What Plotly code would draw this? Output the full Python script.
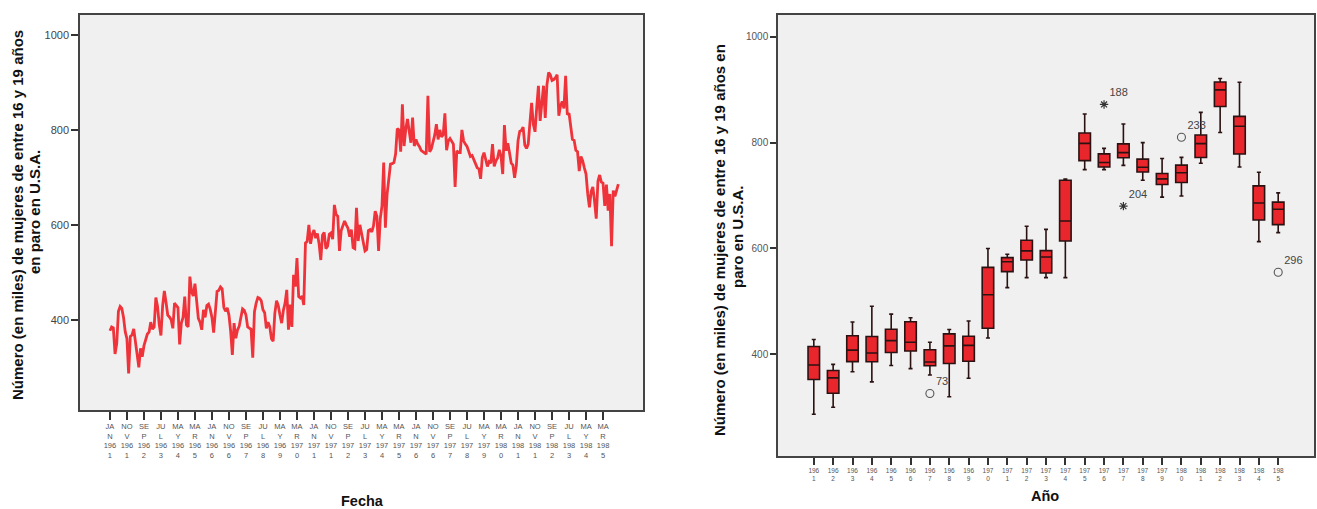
import numpy as np
import plotly.graph_objects as go

# ---------------- data (thousands, monthly Jan 1961 - Dec 1985) ----------------
month_abbr = ["JAN", "FEB", "MAR", "APR", "MAY", "JUN", "JUL", "AUG", "SEP", "OCT", "NOV", "DEC"]
years = list(range(1961, 1986))

v1961 = [377, 385, 383, 328, 350, 418, 428, 424, 405, 375, 360, 287]
v1962 = [365, 368, 381, 350, 318, 300, 340, 322, 345, 361, 370, 374]
v1963 = [395, 380, 385, 447, 428, 390, 367, 430, 461, 437, 410, 406]
v1964 = [400, 382, 435, 430, 426, 348, 393, 405, 449, 389, 385, 491]
v1965 = [460, 450, 476, 440, 403, 395, 379, 421, 405, 430, 433, 422]
v1966 = [405, 373, 421, 460, 462, 469, 465, 426, 418, 425, 410, 376]
v1967 = [326, 393, 361, 378, 386, 405, 423, 420, 410, 385, 382, 380]
v1968 = [320, 417, 435, 447, 445, 440, 421, 415, 382, 395, 385, 360]
v1969 = [355, 414, 440, 430, 410, 393, 420, 435, 463, 379, 432, 385]
v1970 = [495, 470, 530, 449, 446, 450, 431, 562, 565, 600, 560, 580]
v1971 = [589, 572, 582, 560, 526, 578, 584, 550, 555, 580, 583, 570]
v1972 = [642, 622, 618, 545, 588, 598, 608, 600, 593, 575, 590, 552]
v1973 = [550, 636, 566, 600, 583, 565, 545, 548, 588, 590, 585, 598]
v1974 = [629, 618, 545, 613, 640, 731, 594, 664, 700, 728, 729, 731]
v1975 = [749, 803, 800, 754, 854, 766, 802, 823, 797, 773, 826, 766]
v1976 = [780, 770, 765, 757, 754, 752, 749, 872, 754, 760, 775, 789]
v1977 = [812, 780, 800, 785, 790, 835, 757, 777, 782, 775, 770, 680]
v1978 = [756, 752, 752, 800, 777, 770, 765, 755, 744, 746, 735, 729]
v1979 = [720, 718, 697, 742, 752, 740, 723, 733, 730, 770, 723, 735]
v1980 = [741, 758, 745, 707, 810, 756, 772, 752, 730, 726, 699, 724]
v1981 = [777, 797, 799, 806, 768, 761, 770, 815, 857, 812, 796, 848]
v1982 = [893, 819, 860, 893, 825, 895, 921, 916, 904, 906, 910, 916]
v1983 = [830, 851, 860, 845, 914, 832, 835, 800, 780, 778, 757, 754]
v1984 = [713, 744, 735, 720, 707, 665, 637, 670, 680, 650, 613, 692]
v1985 = [705, 690, 688, 640, 685, 630, 665, 555, 672, 660, 676, 686]

by_year = [v1961, v1962, v1963, v1964, v1965, v1966, v1967, v1968, v1969, v1970,
           v1971, v1972, v1973, v1974, v1975, v1976, v1977, v1978, v1979, v1980,
           v1981, v1982, v1983, v1984, v1985]

values = [v for yr in by_year for v in yr]
month_idx = list(range(len(values)))

# tick labels (SPSS-style wrapped)
tick_idx = list(range(0, 291, 10))
tick_txt = []
for i in tick_idx:
    ab = month_abbr[i % 12]
    yr = str(1961 + i // 12)
    tick_txt.append(f"{ab[:2]}<br>{ab[2:]}<br>{yr[:3]}<br>{yr[3:]}")

year_cats = [str(y) for y in years]
year_txt = [f"{s[:3]}<br>{s[3:]}" for s in year_cats]

# ---------------- box statistics (SPSS style, weighted average quartiles) ----------------
q1s, meds, q3s, lows, highs = [], [], [], [], []
out_x, out_y, out_lab = [], [], []
ext_x, ext_y, ext_lab = [], [], []
for k, vals in enumerate(by_year):
    a = np.array(vals, dtype=float)
    q1 = float(np.percentile(a, 25, method="weibull"))
    q3 = float(np.percentile(a, 75, method="weibull"))
    md = float(np.median(a))
    iqr = q3 - q1
    lo, hi = q1 - 1.5 * iqr, q3 + 1.5 * iqr
    elo, ehi = q1 - 3 * iqr, q3 + 3 * iqr
    q1s.append(q1); q3s.append(q3); meds.append(md)
    lows.append(float(a[a >= lo].min())); highs.append(float(a[a <= hi].max()))
    for j, v in enumerate(vals):
        case = k * 12 + j + 1
        if v < elo or v > ehi:
            ext_x.append(year_cats[k]); ext_y.append(v); ext_lab.append(str(case))
        elif v < lo or v > hi:
            out_x.append(year_cats[k]); out_y.append(v); out_lab.append(str(case))

# ---------------- figure ----------------
W, H = 1317, 509
FONT = "Liberation Sans, Arial, sans-serif"
RED_LINE = "#EF333A"
RED_BOX = "#E8262C"
GRID_BG = "#F0F0F0"

fig = go.Figure()

fig.add_trace(go.Scatter(
    x=month_idx, y=values, mode="lines",
    line=dict(color=RED_LINE, width=2.8),
    xaxis="x", yaxis="y", showlegend=False, hoverinfo="skip"))

fig.add_trace(go.Box(
    x=year_cats, q1=q1s, median=meds, q3=q3s, lowerfence=lows, upperfence=highs,
    fillcolor=RED_BOX, line=dict(color="#2a1212", width=1.6),
    whiskerwidth=0.35, boxpoints=False,
    xaxis="x2", yaxis="y2", showlegend=False, hoverinfo="skip"))

fig.add_trace(go.Scatter(
    x=out_x, y=out_y, mode="markers+text", text=out_lab, textposition="top right",
    textfont=dict(size=11, color="#444", family=FONT),
    marker=dict(symbol="circle-open", size=8, color="#555", line=dict(width=1.1)),
    xaxis="x2", yaxis="y2", showlegend=False, hoverinfo="skip", cliponaxis=False))

fig.add_trace(go.Scatter(
    x=ext_x, y=ext_y, mode="markers+text", text=ext_lab, textposition="top right",
    textfont=dict(size=11, color="#444", family=FONT),
    marker=dict(symbol="asterisk-open", size=7, color="#333", line=dict(width=1.2, color="#333")),
    xaxis="x2", yaxis="y2", showlegend=False, hoverinfo="skip", cliponaxis=False))

L0, L1 = 80 / W, 643 / W
R0, R1 = 778 / W, 1314 / W
TOP = 1 - 15 / H

fig.update_layout(
    width=W, height=H,
    margin=dict(l=0, r=0, t=0, b=0),
    paper_bgcolor="white",
    plot_bgcolor=GRID_BG,
    font=dict(family=FONT, color="#333"),
    xaxis=dict(domain=[L0, L1], range=[-17.6, 313.5], tickmode="array",
               tickvals=tick_idx, ticktext=tick_txt, ticks="outside", ticklen=8,
               tickwidth=1.5, tickcolor="#333", tickfont=dict(size=7.5, color="#555"),
               showgrid=False, zeroline=False, showline=True, mirror=True,
               linecolor="#444", linewidth=1.5, anchor="y"),
    yaxis=dict(domain=[(H - 410) / H, TOP], range=[210, 1042], tickvals=[400, 600, 800, 1000],
               ticks="outside", ticklen=7, tickwidth=1.5, tickcolor="#333",
               tickfont=dict(size=11, color="#444"),
               showgrid=False, zeroline=False, showline=True, mirror=True,
               linecolor="#444", linewidth=1.5, anchor="x"),
    xaxis2=dict(domain=[R0, R1], type="category", categoryorder="array",
                categoryarray=year_cats, range=[-1.85, 25.85], tickmode="array",
                tickvals=year_cats, ticktext=year_txt, ticks="outside", ticklen=7,
                tickwidth=1.5, tickcolor="#333", tickfont=dict(size=6.5, color="#555"),
                showgrid=False, zeroline=False, showline=True, mirror=True,
                linecolor="#444", linewidth=1.5, anchor="y2"),
    yaxis2=dict(domain=[(H - 456) / H, TOP], range=[208, 1041], tickvals=[400, 600, 800, 1000],
                ticks="outside", ticklen=6, tickwidth=1.5, tickcolor="#333",
                tickfont=dict(size=10, color="#555"),
                showgrid=False, zeroline=False, showline=True, mirror=True,
                linecolor="#444", linewidth=1.5, anchor="x2"),
    boxgap=0.15,
)

annos = [
    dict(text="Número (en miles) de mujeres de entre 16 y 19 años",
         x=18 / W, y=1 - 215 / H, textangle=-90, size=15),
    dict(text="en paro en U.S.A.", x=34 / W, y=1 - 212 / H, textangle=-90, size=15),
    dict(text="Número (en miles) de mujeres de entre 16 y 19 años en",
         x=719 / W, y=1 - 240 / H, textangle=-90, size=15),
    dict(text="paro en U.S.A.", x=737 / W, y=1 - 237 / H, textangle=-90, size=15),
    dict(text="Fecha", x=362 / W, y=1 - 501 / H, textangle=0, size=14.5),
    dict(text="Año", x=1045 / W, y=1 - 496 / H, textangle=0, size=14.5),
]
for a in annos:
    fig.add_annotation(xref="paper", yref="paper", showarrow=False,
                       xanchor="center", yanchor="middle",
                       text="<b>" + a["text"] + "</b>", x=a["x"], y=a["y"],
                       textangle=a["textangle"],
                       font=dict(size=a["size"], color="#111", family=FONT))

fig.write_html("out.html",
               config={"displayModeBar": False},
               post_script="document.body.style.margin='0px';document.body.style.padding='0px';")
